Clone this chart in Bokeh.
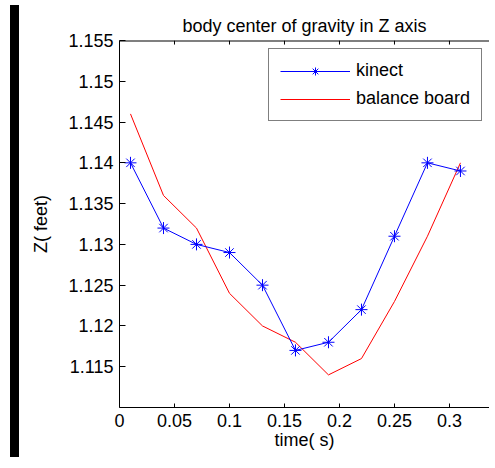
from bokeh.plotting import figure
from bokeh.models import FixedTicker, Range1d, Legend, LegendItem, Div, Spacer, Span
from bokeh.layouts import row, column
from bokeh.embed import file_html
from bokeh.resources import INLINE

# ---- data ----
time_s = [0.01, 0.04, 0.07, 0.10, 0.13, 0.16, 0.19, 0.22, 0.25, 0.28, 0.31]
kinect = [1.140, 1.132, 1.130, 1.129, 1.125, 1.117, 1.118, 1.122, 1.131, 1.140, 1.139]
balance_board = [1.146, 1.136, 1.132, 1.124, 1.120, 1.118, 1.114, 1.116, 1.123, 1.131, 1.140]

x_ticks = [0, 0.05, 0.1, 0.15, 0.2, 0.25, 0.3]
x_tick_labels = ["0", "0.05", "0.1", "0.15", "0.2", "0.25", "0.3"]
y_ticks = [1.115, 1.12, 1.125, 1.13, 1.135, 1.14, 1.145, 1.15, 1.155]
y_tick_labels = ["1.115", "1.12", "1.125", "1.13", "1.135", "1.14", "1.145", "1.15", "1.155"]

X_END = 0.3364
Y_MIN, Y_MAX = 1.11, 1.155

FONT = "Liberation Sans"
FS = "18px"

FIG_W, FIG_H, TOP_GAP = 465, 444, 8

p = figure(width=FIG_W, height=FIG_H, output_backend="svg", toolbar_location=None,
           x_range=Range1d(0, X_END), y_range=Range1d(Y_MIN, Y_MAX),
           min_border_left=95, min_border_right=0, min_border_bottom=40, min_border_top=20,
           title="body center of gravity in Z axis")
p.outline_line_color = None
p.background_fill_color = "white"
p.border_fill_color = "white"
p.xgrid.visible = False
p.ygrid.visible = False

p.title.text_font = FONT
p.title.text_font_size = FS
p.title.text_font_style = "normal"
p.title.align = "center"
p.title.text_color = "black"

for ax, ticks, labels in ((p.xaxis[0], x_ticks, x_tick_labels), (p.yaxis[0], y_ticks, y_tick_labels)):
    ax.ticker = FixedTicker(ticks=ticks)
    ax.major_label_overrides = {t: l for t, l in zip(ticks, labels)}
    ax.major_label_text_font = FONT
    ax.major_label_text_font_size = FS
    ax.major_label_text_color = "black"
    ax.axis_label_text_font = FONT
    ax.axis_label_text_font_size = FS
    ax.axis_label_text_font_style = "normal"
    ax.axis_label_text_color = "black"
    ax.minor_tick_line_color = None
    ax.major_tick_out = 0
    ax.axis_line_color = "black"
    ax.major_tick_line_color = "black"

p.xaxis.major_tick_in = 4
p.yaxis.major_tick_in = 6
p.xaxis.major_label_standoff = 6
p.yaxis.major_label_standoff = 6
p.xaxis.axis_label = "time( s)"
p.yaxis.axis_label = "Z( feet)"
p.xaxis.axis_label_standoff = 0
p.yaxis.axis_label_standoff = 14

# top border of the box with its inward ticks (tick length ~4 px in data units)
p.add_layout(Span(location=Y_MAX, dimension="width", line_color="black", line_width=2))
tick_len = 4 * (Y_MAX - Y_MIN) / 362
p.segment(x0=x_ticks, y0=[Y_MAX] * len(x_ticks), x1=x_ticks,
          y1=[Y_MAX - tick_len] * len(x_ticks), line_color="black", line_width=1)

r_bb = p.line(time_s, balance_board, line_color="#ff0000", line_width=1)
r_k = p.line(time_s, kinect, line_color="#0000ff", line_width=1)
r_km = p.scatter(time_s, kinect, marker="asterisk", size=12, line_color="#0000ff", line_width=1)

legend = Legend(items=[LegendItem(label="kinect", renderers=[r_k, r_km]),
                       LegendItem(label="balance board", renderers=[r_bb])],
                location=(149, 286), orientation="vertical",
                padding=11, margin=0, spacing=7, glyph_width=70, glyph_height=20,
                label_height=20, label_standoff=6,
                label_text_font=FONT, label_text_font_size=FS, label_text_color="black",
                border_line_color="black", border_line_width=1,
                background_fill_color="white", background_fill_alpha=1.0)
p.add_layout(legend, "center")

bar = Div(text="", width=9, height=452, styles={"background-color": "black"})
layout = row(Spacer(width=5, height=452), bar,
             column(Spacer(width=FIG_W, height=TOP_GAP), p))

open("out.html", "w").write(file_html(layout, INLINE))
